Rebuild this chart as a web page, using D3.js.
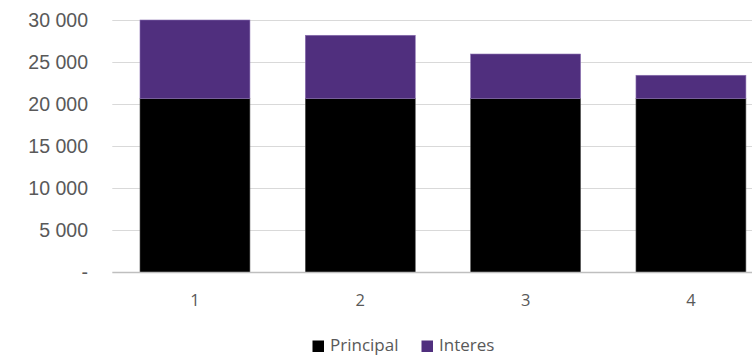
<!DOCTYPE html>
<html><head><meta charset="utf-8">
<script src="https://cdn.jsdelivr.net/npm/d3@7"></script>
<style>body{margin:0;background:#fff;overflow:hidden}svg{display:block}</style>
</head><body><svg id="c" width="752" height="355"></svg>
<script>
const categories = ["1","2","3","4"];
const principal = [20700, 20700, 20700, 20700];
const interes = [9360, 7540, 5310, 2780];
const yTicks = [0, 5000, 10000, 15000, 20000, 25000, 30000];
const seriesNames = ["Principal","Interes"];
const colors = ["#000000","#502f7e"];

const svg = d3.select("#c");
const m = {left:112.3, right:773.6, top:20.5, bottom:272.5};
const x = d3.scaleBand().domain(categories).range([m.left, m.right]).paddingInner(0.335).paddingOuter(0.1675);
const y = d3.scaleLinear().domain([0,30000]).range([m.bottom, m.top]);

const fmt = v => v === 0 ? "-" : d3.format(",")(v).replace(/,/g, " ");

// gridlines
svg.append("g").selectAll("line").data(yTicks.filter(d=>d>0)).join("line")
  .attr("x1", m.left).attr("x2", m.right)
  .attr("y1", d=>y(d)).attr("y2", d=>y(d))
  .attr("stroke","#d9d9d9").attr("stroke-width",1);

// y labels
svg.append("g").selectAll("text").data(yTicks).join("text")
  .attr("x", 88).attr("y", d=>y(d)).attr("dy","0.35em")
  .attr("text-anchor","end")
  .attr("font-family","'Liberation Sans', Arial, sans-serif").attr("font-size",19.5)
  .attr("fill","#595959").text(fmt);

const stacked = d3.stack().keys([0,1]).value((d,k)=>k===0?d.p:d.i)(categories.map((c,i)=>({c, p:principal[i], i:interes[i]})));

svg.append("g").selectAll("g").data(stacked).join("g")
  .attr("fill",(d,i)=>colors[i])
  .attr("stroke",(d,i)=> i===0 ? "#555" : "#8a6fb0").attr("stroke-width",0.6)
  .selectAll("rect").data(d=>d).join("rect")
  .attr("x", d=>x(d.data.c)).attr("width", x.bandwidth())
  .attr("y", d=>y(d[1])).attr("height", d=>y(d[0])-y(d[1]));

// axis line
svg.append("line").attr("x1",m.left).attr("x2",m.right).attr("y1",m.bottom).attr("y2",m.bottom)
  .attr("stroke","#bfbfbf").attr("stroke-width",1.5);

// x labels
svg.append("g").selectAll("text").data(categories).join("text")
  .attr("x", d=>x(d)+x.bandwidth()/2).attr("y", 306)
  .attr("text-anchor","middle")
  .attr("font-family","'Open Sans', sans-serif").attr("font-size",16.5)
  .attr("fill","#595959").text(d=>d);

// legend
const lg = svg.append("g");
const lx = [312.5, 421.5];
seriesNames.forEach((n,i)=>{
  lg.append("rect").attr("x",lx[i]).attr("y",340.5).attr("width",11.5).attr("height",11.5).attr("fill",colors[i]);
  lg.append("text").attr("x",lx[i]+17.5).attr("y",350.5)
    .attr("font-family","'Open Sans', sans-serif").attr("font-size",17)
    .attr("fill","#595959").text(n);
});
</script></body></html>
